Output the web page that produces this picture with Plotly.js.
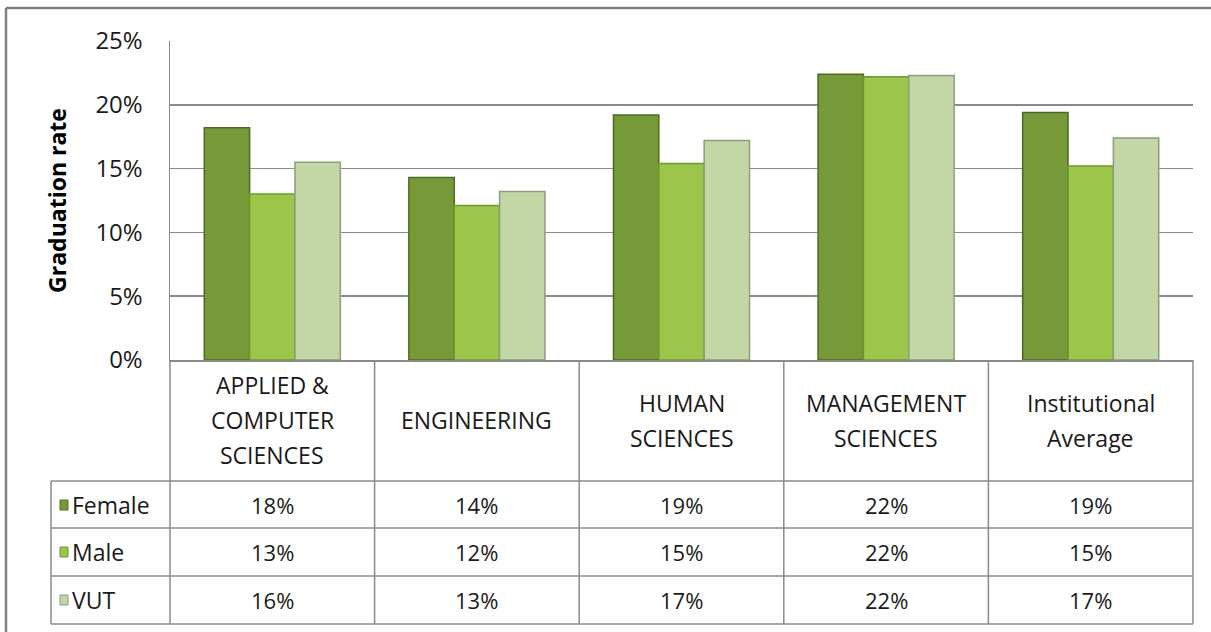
<!DOCTYPE html>
<html>
<head>
<meta charset="utf-8">
<script src="https://cdn.plot.ly/plotly-3.0.1.min.js"></script>
<style>html,body{margin:0;padding:0;background:#fff;}#chart{width:1211px;height:632px;}</style>
</head>
<body>
<div id="chart"></div>
<script>
// ---- data ----
const categories = ["APPLIED &<br>COMPUTER<br>SCIENCES", "ENGINEERING", "HUMAN<br>SCIENCES", "MANAGEMENT<br>SCIENCES", "Institutional<br>Average"];
const seriesNames = ["Female", "Male", "VUT"];
const female = [0.182, 0.143, 0.192, 0.224, 0.194];
const male   = [0.130, 0.121, 0.154, 0.222, 0.152];
const vut    = [0.155, 0.132, 0.172, 0.223, 0.174];
const yTickVals = [0, 0.05, 0.10, 0.15, 0.20, 0.25];
const yTickText = ["0%", "5%", "10%", "15%", "20%", "25%"];

// ---- styling ----
const W = 1211, H = 632;
const L = 170, R = 1193, T = 41, B = 360;
const fills = ["#779a38", "#9cc64a", "#c3d6a6"];
const edges = ["#4e6a20", "#6d9a2a", "#8d9c7c"];
const FONT = "Open Sans, sans-serif";
const gridCol = "#8a8a8a";
const textCol = "#1a1a1a";

const pw = R - L, ph = B - T;
const px = x => (x - L) / pw;          // pixel -> paper x
const py = y => (B - y) / ph;          // pixel -> paper y

const series = [female, male, vut];
const traces = series.map((vals, i) => ({
  type: "bar",
  name: seriesNames[i],
  x: categories,
  y: vals,
  marker: {color: fills[i], line: {color: edges[i], width: 1.5}},
  hoverinfo: "none"
}));

// table geometry (pixels)
const tableLeft = 51;
const headerBottom = 481;
const rowBottoms = [528, 576, 624];
const rowCenters = [505, 552, 600];
const headerCenter = 420;
const headerLineGap = 35;
const nCat = categories.length;

const shapes = [];
const line = (x0, y0, x1, y1, c, w) => shapes.push({type: "line", xref: "paper", yref: "paper",
  x0: px(x0), y0: py(y0), x1: px(x1), y1: py(y1), line: {color: c, width: w}});

// outer chart border (top and left)
line(6, 8, 1215, 8, "#808080", 2.5);
line(6, 8, 6, 640, "#808080", 2.5);

// table horizontal lines
line(tableLeft, headerBottom, R, headerBottom, gridCol, 1.5);
rowBottoms.forEach(yb => line(tableLeft, yb, R, yb, gridCol, 1.5));
// table verticals
line(tableLeft, headerBottom, tableLeft, rowBottoms[2], gridCol, 1.5);
for (let k = 0; k <= nCat; k++) {
  const xx = L + pw * k / nCat;
  line(xx, B, xx, rowBottoms[2], gridCol, 1.5);
}

const annotations = [];
// category header labels (one annotation per line)
categories.forEach((c) => {
  const parts = c.split("<br>");
  parts.forEach((p, j) => {
    const yy = headerCenter + (j - (parts.length - 1) / 2) * headerLineGap;
    annotations.push({xref: "x", yref: "paper", x: c, y: py(yy), text: p, showarrow: false,
      font: {family: FONT, size: 23, color: textCol}, align: "center", yanchor: "middle"});
  });
});
// row labels, legend keys and values
series.forEach((vals, i) => {
  const yc = rowCenters[i];
  shapes.push({type: "rect", xref: "paper", yref: "paper",
    x0: px(60), x1: px(68), y0: py(yc + 5), y1: py(yc - 5),
    fillcolor: fills[i], line: {color: edges[i], width: 1}});
  annotations.push({xref: "paper", yref: "paper", x: px(70), y: py(yc), xanchor: "left", yanchor: "middle",
    text: seriesNames[i], showarrow: false, font: {family: FONT, size: 23, color: textCol}});
  vals.forEach((v, k) => {
    annotations.push({xref: "x", yref: "paper", x: categories[k], y: py(yc), yanchor: "middle",
      text: Math.round(v * 100) + "%", showarrow: false, font: {family: FONT, size: 22, color: textCol}});
  });
});

const layout = {
  width: W, height: H,
  margin: {l: L, r: W - R, t: T, b: H - B, pad: 0},
  paper_bgcolor: "#ffffff", plot_bgcolor: "#ffffff",
  barmode: "group", bargap: 0.335, bargroupgap: 0,
  showlegend: false,
  font: {family: FONT, color: textCol},
  xaxis: {type: "category", showticklabels: false, ticks: "", showgrid: false, zeroline: false,
    showline: true, linecolor: gridCol, linewidth: 1.5, fixedrange: true},
  yaxis: {range: [0, 0.25], tickvals: yTickVals, ticktext: yTickText, showgrid: true, gridcolor: gridCol, gridwidth: 1.5,
    zeroline: false, showline: true, linecolor: gridCol, linewidth: 1.5, ticks: "", ticklabelstandoff: 21,
    tickfont: {family: FONT, size: 24, color: textCol},
    title: {text: "Graduation rate", font: {family: FONT, size: 23, color: "#000", weight: "bold"}, standoff: 22},
    fixedrange: true},
  shapes: shapes,
  annotations: annotations
};

Plotly.newPlot("chart", traces, layout, {displayModeBar: false, staticPlot: true});
</script>
</body>
</html>
